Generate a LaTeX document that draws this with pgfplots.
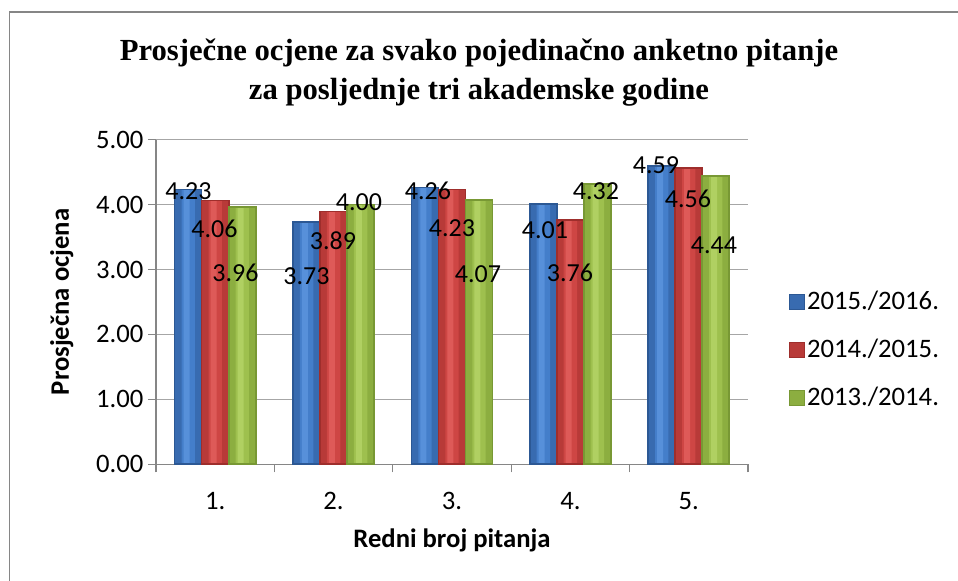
\documentclass[border=0pt]{standalone}
\usepackage{pgfplots}
\pgfplotsset{compat=1.18}
\usepackage{fontspec}
\setmainfont{Carlito}
\newfontfamily\titlefont{Liberation Serif}
\definecolor{axgray}{HTML}{868686}
\definecolor{gridgray}{HTML}{A6A6A6}
\definecolor{blueA}{HTML}{2C5894}
\definecolor{blueB}{HTML}{386BB0}
\definecolor{blueC}{HTML}{447ECA}
\definecolor{blueD}{HTML}{5790DA}
\definecolor{redA}{HTML}{9E2E2C}
\definecolor{redB}{HTML}{B83A38}
\definecolor{redC}{HTML}{CE4644}
\definecolor{redD}{HTML}{DE5A58}
\definecolor{greenA}{HTML}{789834}
\definecolor{greenB}{HTML}{8CAE40}
\definecolor{greenC}{HTML}{9EC04E}
\definecolor{greenD}{HTML}{B0D062}
\pgfplotstableread{
x c
0 4.23
1 3.73
2 4.26
3 4.01
4 4.59
}\seriesA
\pgfplotstableread{
x c
0 4.06
1 3.89
2 4.23
3 3.76
4 4.56
}\seriesB
\pgfplotstableread{
x c
0 3.96
1 4.00
2 4.07
3 4.32
4 4.44
}\seriesC
\pgfplotstableread{
x y l
-0.2255 4.20 4.23
-0.006  3.63 4.06
0.171   2.95 3.96
0.771   2.90 3.73
0.995   3.44 3.89
1.2145  4.04 4.00
1.797   4.21 4.26
2.0     3.64 4.23
2.22    2.92 4.07
2.785   3.61 4.01
2.997   2.95 3.76
3.216   4.20 4.32
3.723   4.60 4.59
3.993   4.09 4.56
4.213   3.38 4.44
}\labeltable
\begin{document}
\begin{tikzpicture}
\useasboundingbox (0,0) rectangle (718.5pt,-435.75pt);
\draw[axgray, line width=1.2pt] (7pt,-440pt) -- (7pt,-9pt) -- (720pt,-9pt);
\node[font=\titlefont\bfseries\fontsize{23}{29.5}\selectfont, align=center] at (359.25pt,-54.5pt) {Prosječne ocjene za svako pojedinačno anketno pitanje\\za posljednje tri akademske godine};
\begin{axis}[
  at={(117pt,-348.2pt)}, anchor=south west,
  scale only axis, width=444pt, height=243.5pt,
  xmin=-0.5, xmax=4.5, ymin=0, ymax=5,
  axis x line*=bottom, axis y line*=left,
  axis line style={axgray, line width=0.8pt},
  xtick={0,1,2,3,4}, xticklabels={1.,2.,3.,4.,5.},
  minor xtick={-0.5,0.5,1.5,2.5,3.5,4.5},
  ytick={0,1,2,3,4,5},
  major x tick style={draw=none},
  minor tick style={axgray, line width=0.8pt},
  major y tick style={axgray, line width=0.8pt},
  tick align=outside, major tick length=6pt, minor tick length=6pt,
  ymajorgrids, grid style={gridgray, line width=0.8pt},
  /pgf/number format/assume math mode=true,
  yticklabel={\pgfmathprintnumber[fixed,fixed zerofill,precision=2]{\tick}},
  tick label style={font=\fontsize{20}{24}\selectfont},
  xticklabel style={yshift=-11.5pt},
  ylabel={Prosječna ocjena},
  ylabel style={font=\bfseries\fontsize{20}{24}\selectfont, at={(axis description cs:-0.159,0.5)}, anchor=center},
  xlabel={Redni broj pitanja},
  xlabel style={font=\bfseries\fontsize{20}{24}\selectfont, at={(axis description cs:0.5,-0.233)}, anchor=center},
  legend style={at={(axis description cs:1.062,0.352)}, anchor=west, draw=none, fill=none,
    font=\fontsize{20}{24}\selectfont, row sep=13pt,
    nodes={text height=15pt, text depth=4pt}},
  legend cell align=left,
  legend image code/.code={\draw[#1, line width=0.4pt] (0pt,-5.6pt) rectangle (11.2pt,5.6pt);},
]
% series 2015./2016.
\addplot[ybar, bar width=20.25pt, bar shift=-20.25pt, draw=blueA, line width=0.3pt, fill=blueB]
  table[x=x, y=c] {\seriesA};
\addlegendentry{2015./2016.}
\addplot[ybar, forget plot, bar width=15pt, bar shift=-20.25pt, draw=none, fill=blueB] table[x=x, y=c] {\seriesA};
\addplot[ybar, forget plot, bar width=10pt, bar shift=-20.25pt, draw=none, fill=blueC] table[x=x, y=c] {\seriesA};
\addplot[ybar, forget plot, bar width=4.5pt, bar shift=-21.5pt, draw=none, fill=blueD] table[x=x, y=c] {\seriesA};
% series 2014./2015.
\addplot[ybar, bar width=20.25pt, bar shift=0pt, draw=redA, line width=0.3pt, fill=redB]
  table[x=x, y=c] {\seriesB};
\addlegendentry{2014./2015.}
\addplot[ybar, forget plot, bar width=15pt, bar shift=0pt, draw=none, fill=redB] table[x=x, y=c] {\seriesB};
\addplot[ybar, forget plot, bar width=10pt, bar shift=0pt, draw=none, fill=redC] table[x=x, y=c] {\seriesB};
\addplot[ybar, forget plot, bar width=4.5pt, bar shift=-1.25pt, draw=none, fill=redD] table[x=x, y=c] {\seriesB};
% series 2013./2014.
\addplot[ybar, bar width=20.25pt, bar shift=20.25pt, draw=greenA, line width=0.3pt, fill=greenB]
  table[x=x, y=c] {\seriesC};
\addlegendentry{2013./2014.}
\addplot[ybar, forget plot, bar width=15pt, bar shift=20.25pt, draw=none, fill=greenB] table[x=x, y=c] {\seriesC};
\addplot[ybar, forget plot, bar width=10pt, bar shift=20.25pt, draw=none, fill=greenC] table[x=x, y=c] {\seriesC};
\addplot[ybar, forget plot, bar width=4.5pt, bar shift=19pt, draw=none, fill=greenD] table[x=x, y=c] {\seriesC};
% edges darker
\addplot[ybar, forget plot, bar width=20.25pt, bar shift=-20.25pt, draw=blueA, line width=1.2pt, fill=none] table[x=x, y=c] {\seriesA};
\addplot[ybar, forget plot, bar width=20.25pt, bar shift=0pt, draw=redA, line width=1.2pt, fill=none] table[x=x, y=c] {\seriesB};
\addplot[ybar, forget plot, bar width=20.25pt, bar shift=20.25pt, draw=greenA, line width=1.2pt, fill=none] table[x=x, y=c] {\seriesC};
\addplot[draw=none, mark=none, forget plot, nodes near coords, point meta=explicit symbolic,
  nodes near coords style={font=\fontsize{19.5}{23}\selectfont, anchor=center, inner sep=0pt, text=black}]
  table[x=x, y=y, meta=l] {\labeltable};
\end{axis}
\end{tikzpicture}
\end{document}
